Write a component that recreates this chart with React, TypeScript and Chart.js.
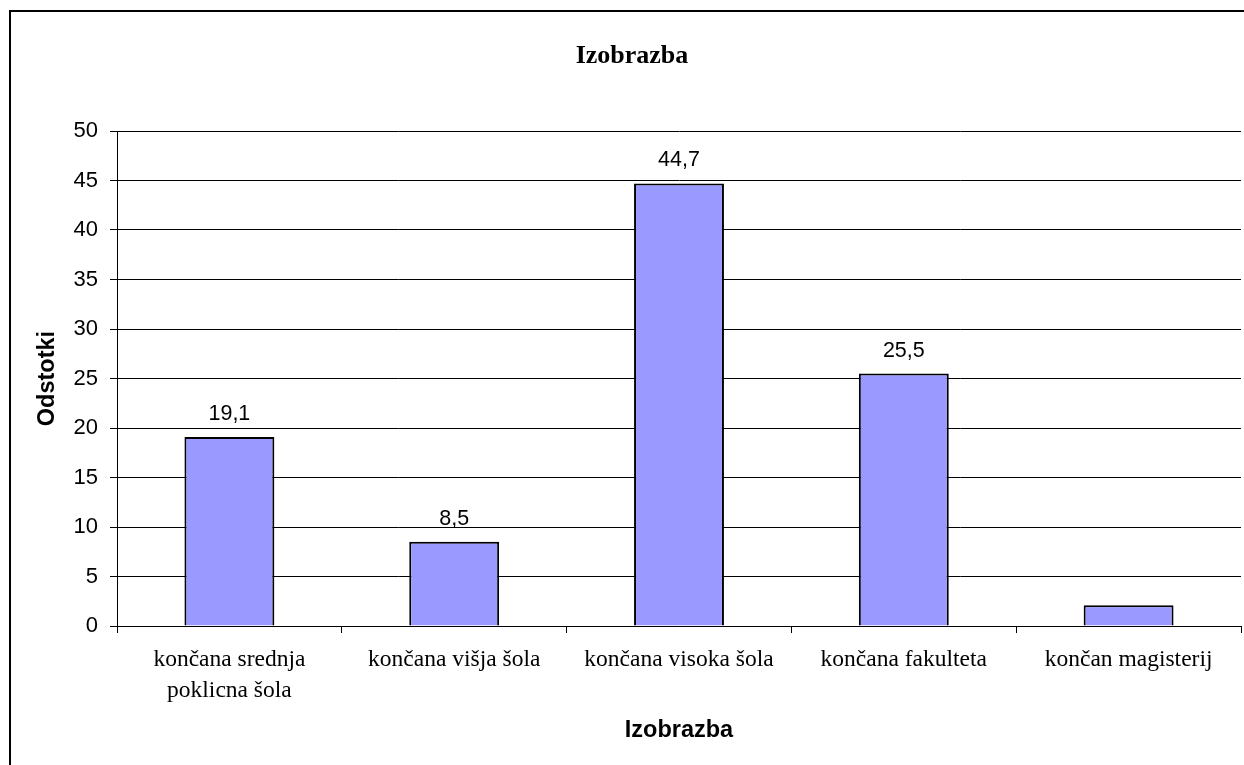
import { useEffect, useRef } from "react";
import { Chart, registerables } from "chart.js";

Chart.register(...registerables);

// Education levels (x categories) and share of respondents in percent
const categories: (string | string[])[] = [
  ["končana srednja", "poklicna šola"],
  "končana višja šola",
  "končana visoka šola",
  "končana fakulteta",
  "končan magisterij",
];
const percentages = [19.1, 8.5, 44.7, 25.5, 2.1];
// Which bars carry a printed value above them
const valueLabelShown = [true, true, true, true, false];

const yMin = 0;
const yMax = 50;
const yStep = 5;

const chartTitle = "Izobrazba";
const xAxisTitle = "Izobrazba";
const yAxisTitle = "Odstotki";

const SANS = '"Liberation Sans", Arial, sans-serif';
const SERIF = '"Liberation Serif", "Times New Roman", serif';

const formatValue = (v: number) => v.toFixed(1).replace(".", ",");

// Outer frame and the chart heading
const framePlugin = {
  id: "frameAndHeading",
  beforeDraw(chart: any) {
    const { ctx } = chart;
    ctx.save();
    ctx.fillStyle = "#ffffff";
    ctx.fillRect(0, 0, chart.width, chart.height);
    ctx.strokeStyle = "#000000";
    ctx.lineWidth = 2;
    ctx.strokeRect(10, 11, 1400, 900);
    ctx.fillStyle = "#000000";
    ctx.font = `bold 26px ${SERIF}`;
    ctx.textAlign = "center";
    ctx.textBaseline = "alphabetic";
    ctx.fillText(chartTitle, 632, 63);
    ctx.restore();
  },
};

// Value labels printed above the bars
const valueLabelPlugin = {
  id: "valueLabels",
  afterDatasetsDraw(chart: any) {
    const { ctx } = chart;
    const meta = chart.getDatasetMeta(0);
    ctx.save();
    ctx.fillStyle = "#000000";
    ctx.font = `21.5px ${SANS}`;
    ctx.textAlign = "center";
    ctx.textBaseline = "alphabetic";
    meta.data.forEach((bar: any, i: number) => {
      if (!valueLabelShown[i]) return;
      ctx.fillText(formatValue(percentages[i]), bar.x, bar.y - 17);
    });
    ctx.restore();
  },
};

export default function App() {
  const canvasRef = useRef<HTMLCanvasElement | null>(null);

  useEffect(() => {
    if (!canvasRef.current) return;
    const chart = new Chart(canvasRef.current, {
      type: "bar",
      data: {
        labels: categories,
        datasets: [
          {
            label: yAxisTitle,
            data: percentages,
            backgroundColor: "#9999FF",
            borderColor: "#000000",
            borderWidth: 2,
            barPercentage: 0.4,
            categoryPercentage: 1,
          },
        ],
      },
      options: {
        responsive: false,
        animation: false,
        devicePixelRatio: 1,
        layout: { padding: { top: 131, right: 3, bottom: 0, left: 0 } },
        plugins: {
          legend: { display: false },
          tooltip: { enabled: false },
          title: { display: false },
        },
        scales: {
          x: {
            type: "category",
            grid: {
              display: true,
              drawOnChartArea: false,
              drawTicks: true,
              tickLength: 7,
              color: "#000000",
              lineWidth: 1,
              offset: true,
            },
            border: { display: true, color: "#000000", width: 1 },
            ticks: {
              color: "#000000",
              font: { family: SERIF, size: 23.5, lineHeight: 1.3 },
              padding: 12,
              maxRotation: 0,
              minRotation: 0,
              autoSkip: false,
            },
            title: {
              display: true,
              text: xAxisTitle,
              color: "#000000",
              font: { family: SANS, size: 23.5, weight: "bold", lineHeight: 1.2 },
              padding: { top: 0, bottom: 20 },
            },
            afterFit: (scale: any) => {
              scale.height = 139;
            },
          },
          y: {
            min: yMin,
            max: yMax,
            grid: {
              color: "#000000",
              lineWidth: 1,
              tickLength: 7,
              drawTicks: true,
            },
            border: { display: true, color: "#000000", width: 1 },
            ticks: {
              stepSize: yStep,
              color: "#000000",
              font: { family: SANS, size: 22 },
              padding: 12,
            },
            title: {
              display: true,
              text: yAxisTitle,
              color: "#000000",
              font: { family: SANS, size: 23.5, weight: "bold", lineHeight: 1.2 },
              padding: { top: 33, bottom: 0 },
            },
            afterFit: (scale: any) => {
              scale.width = 117;
            },
          },
        },
      },
      plugins: [framePlugin, valueLabelPlugin],
    } as any);
    return () => chart.destroy();
  }, []);

  return (
    <div style={{ position: "absolute", left: 0, top: 0, width: 1244, height: 765 }}>
      <canvas ref={canvasRef} width={1244} height={765} style={{ display: "block" }} />
    </div>
  );
}
